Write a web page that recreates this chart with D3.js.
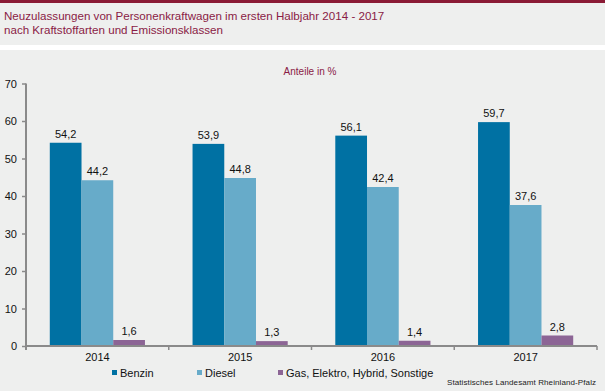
<!DOCTYPE html>
<html><head><meta charset="utf-8">
<script src="https://cdn.jsdelivr.net/npm/d3@7"></script>
<style>body{margin:0;background:#fff}svg{display:block;font-family:"Liberation Sans",Arial,sans-serif}</style>
</head><body><svg id="c" width="605" height="391"></svg>
<script>
const categories = ["2014","2015","2016","2017"];
const seriesNames = ["Benzin","Diesel","Gas, Elektro, Hybrid, Sonstige"];
const benzin = [54.2, 53.9, 56.1, 59.7];
const diesel = [44.2, 44.8, 42.4, 37.6];
const sonstige = [1.6, 1.3, 1.4, 2.8];
const yTicks = [0,10,20,30,40,50,60,70];
const colors = ["#0071a3","#67abc9","#8c6595"];
const seriesValues = [benzin, diesel, sonstige];

const svg = d3.select("#c");
// panels
svg.append("rect").attr("x",0).attr("y",0).attr("width",605).attr("height",45).attr("fill","#eeefee");
svg.append("rect").attr("x",0).attr("y",0).attr("width",605).attr("height",3).attr("fill","#8a1b35");
svg.append("rect").attr("x",0).attr("y",50).attr("width",605).attr("height",341).attr("fill","#eeefee");

const titleColor = "#8a1b45";
svg.append("text").attr("x",4).attr("y",20).attr("font-size",11.6).attr("fill",titleColor)
  .text("Neuzulassungen von Personenkraftwagen im ersten Halbjahr 2014 - 2017");
svg.append("text").attr("x",4).attr("y",34).attr("font-size",11.6).attr("fill",titleColor)
  .text("nach Kraftstoffarten und Emissionsklassen");
svg.append("text").attr("x",310).attr("y",75).attr("text-anchor","middle").attr("font-size",10).attr("fill",titleColor)
  .text("Anteile in %");

const x0 = d3.scaleBand().domain(categories).range([26,597]).padding(0);
const bw = x0.bandwidth();
const x1 = d3.scaleBand().domain(seriesNames).range([bw/6, bw*5/6]).padding(0);
const y = d3.scaleLinear().domain([0,70]).range([346,83.5]);

// bars
seriesNames.forEach((s,si)=>{
  const g = svg.append("g");
  categories.forEach((c,ci)=>{
    const v = seriesValues[si][ci];
    g.append("rect").attr("x",x0(c)+x1(s)).attr("y",y(v)).attr("width",x1.bandwidth())
      .attr("height",y(0)-y(v)).attr("fill",colors[si]);
    g.append("text").attr("x",x0(c)+x1(s)+x1.bandwidth()/2).attr("y",y(v)-5)
      .attr("text-anchor","middle").attr("font-size",11).attr("fill","#111")
      .text(d3.format(".1f")(v).replace(".",","));
  });
});

const axisColor = "#8a8a8a";
// y axis
const ya = svg.append("g").attr("transform","translate(26,0)").call(d3.axisLeft(y).tickValues(yTicks).tickSize(4).tickPadding(5).tickFormat(d3.format("d")));
ya.select(".domain").remove();
ya.selectAll(".tick line").attr("stroke",axisColor).attr("stroke-width",1.5);
ya.selectAll(".tick text").attr("font-size",11).attr("fill","#111").attr("font-family","Liberation Sans, Arial, sans-serif");
svg.append("line").attr("x1",26).attr("x2",26).attr("y1",y(70)).attr("y2",350).attr("stroke",axisColor).attr("stroke-width",2);

// x axis
svg.append("line").attr("x1",25).attr("x2",597).attr("y1",346).attr("y2",346).attr("stroke",axisColor).attr("stroke-width",2);
const bounds = categories.map(c=>x0(c)).concat([x0.range()[1]]);
svg.selectAll(".xt").data(bounds.slice(1)).enter().append("line")
  .attr("x1",d=>d).attr("x2",d=>d).attr("y1",346).attr("y2",350).attr("stroke",axisColor).attr("stroke-width",1.5);
const xa = svg.append("g").attr("transform","translate(0,346)").call(d3.axisBottom(x0).tickSize(0).tickPadding(7));
xa.select(".domain").remove();
xa.selectAll(".tick text").attr("font-size",11).attr("fill","#111").attr("font-family","Liberation Sans, Arial, sans-serif");

// legend
const legX = [112, 197, 278];
seriesNames.forEach((s,i)=>{
  svg.append("rect").attr("x",legX[i]).attr("y",370).attr("width",5).attr("height",5).attr("fill",colors[i]);
  svg.append("text").attr("x",legX[i]+8).attr("y",377).attr("font-size",11).attr("fill","#111").text(s);
});
svg.append("text").attr("x",596).attr("y",385).attr("text-anchor","end").attr("font-size",8)
  .attr("fill","#222").attr("textLength",149).text("Statistisches Landesamt Rheinland-Pfalz");
</script></body></html>
